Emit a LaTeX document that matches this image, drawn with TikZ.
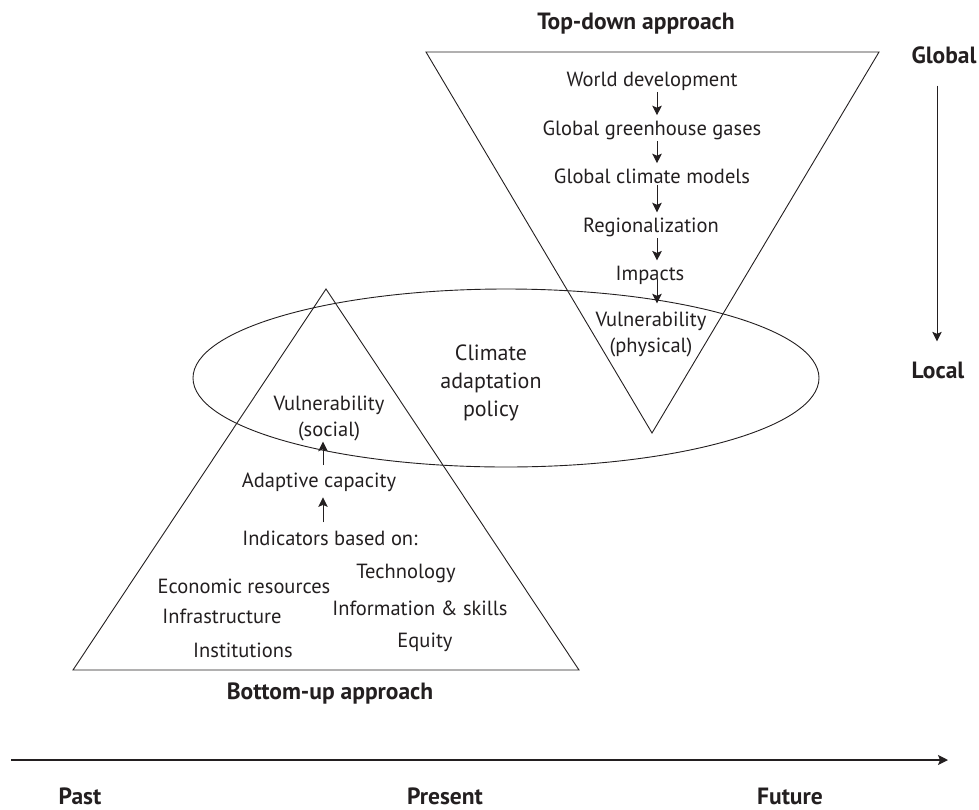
\documentclass[tikz,border=0pt]{standalone}
\usepackage{fontspec}
\setmainfont{PT Sans}
\usetikzlibrary{arrows.meta}
\definecolor{ink}{HTML}{231F20}
\begin{document}
\begin{tikzpicture}[x=1pt,y=-1pt,
  lbl/.style={inner sep=0pt, text=ink, align=center, font=\fontsize{20.5}{26}\selectfont},
  head/.style={inner sep=0pt, text=ink, align=center, font=\fontsize{23.5}{28}\selectfont\bfseries},
  outline/.style={draw=ink, line width=0.9pt, line join=miter},
  flow/.style={draw=ink, line width=0.9pt, -{Stealth[length=9.5pt,width=9.5pt,inset=2pt]}},
  axis/.style={draw=ink, line width=1.3pt, -{Stealth[length=10pt,width=10pt,inset=2pt]}},
]
\useasboundingbox (0,0) rectangle (979,809);

% shapes: inverted triangle, upright triangle, policy ellipse
\draw[outline] (426,52) -- (879,52) -- (652,433) -- cycle;
\draw[outline] (326,289) -- (579,670) -- (73,670) -- cycle;
\draw[outline] (506,378) ellipse [x radius=313pt, y radius=89pt];

% headings
\node[head, anchor=base] (td) at (636,29) {Top-down approach};
\node[head, anchor=base] (bu) at (330,699) {Bottom-up approach};

% top-down chain
\coordinate (tdx) at (657,0);
\node[lbl, anchor=base] (wd)  at (652,86)  {World development};
\node[lbl, anchor=base] (gg)  at (652,135) {Global greenhouse gases};
\node[lbl, anchor=base] (gcm) at (652,183) {Global climate models};
\node[lbl, anchor=base] (reg) at (651,232) {Regionalization};
\node[lbl, anchor=base] (imp) at (650,280) {Impacts};
\node[lbl] (vph) at (651,334) {Vulnerability\\(physical)};

\draw[flow, shorten <=1.5pt, shorten >=5pt] (wd.south -| tdx) -- (gg.north -| tdx);
\draw[flow, shorten <=1.5pt, shorten >=5pt] (gg.south -| tdx) -- (gcm.north -| tdx);
\draw[flow, shorten <=1.5pt, shorten >=5pt] (gcm.south -| tdx) -- (reg.north -| tdx);
\draw[flow, shorten <=1.5pt, shorten >=5pt] (reg.south -| tdx) -- (imp.north -| tdx);
\draw[flow, shorten >=8pt] (imp.base -| tdx) -- (vph.north -| tdx);

% policy
\node[lbl, font=\fontsize{22}{28}\selectfont] (pol) at (491,383) {Climate\\adaptation\\policy};

% bottom-up chain
\coordinate (bux) at (323,0);
\node[lbl] (vso) at (329,418) {Vulnerability\\(social)};
\node[lbl, anchor=base] (ac)  at (319,487) {Adaptive capacity};
\node[lbl, anchor=base] (ind) at (330,545) {Indicators based on:};

\draw[flow, shorten <=7pt, shorten >=1pt] (ac.north -| bux) -- (vso.south -| bux);
\draw[flow, shorten <=8pt, shorten >=6pt] (ind.north -| bux) -- (ac.south -| bux);

% indicator list
\node[lbl, anchor=base] (tec) at (406,578) {Technology};
\node[lbl, anchor=base] (eco) at (244,593) {Economic resources};
\node[lbl, anchor=base] (inf) at (420,615) {Information \& skills};
\node[lbl, anchor=base] (ifr) at (222,623) {Infrastructure};
\node[lbl, anchor=base] (equ) at (425,647) {Equity};
\node[lbl, anchor=base] (ins) at (243,657) {Institutions};

% scale axis
\coordinate (gx) at (937,0);
\node[head, anchor=base] (glob) at (944,63) {Global};
\node[head, anchor=base] (loc)  at (938,378) {Local};
\draw[flow, shorten <=22pt, shorten >=20pt] (glob.south -| gx) -- (loc.north -| gx);

% time axis
\coordinate (t0) at (11,760);
\coordinate (t1) at (948,760);
\draw[axis] (t0) -- (t1);
\node[head, anchor=base] (past) at (80,804)  {Past};
\node[head, anchor=base] (pres) at (445,804) {Present};
\node[head, anchor=base] (fut)  at (790,804) {Future};
\end{tikzpicture}
\end{document}
